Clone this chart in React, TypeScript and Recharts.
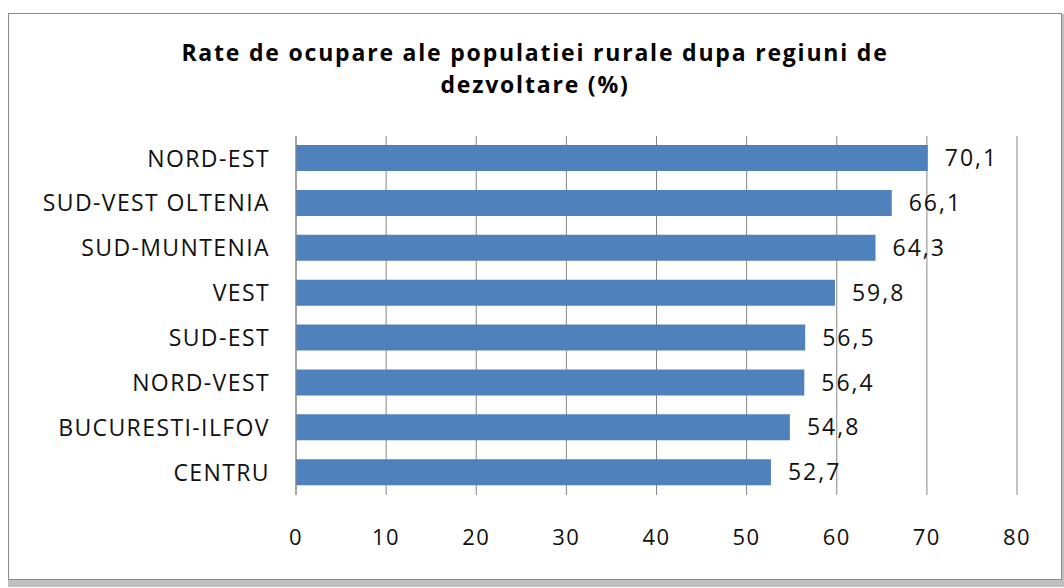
import React from "react";
import { BarChart, Bar, XAxis, YAxis, CartesianGrid, LabelList, Customized } from "recharts";

const regions = ["NORD-EST", "SUD-VEST OLTENIA", "SUD-MUNTENIA", "VEST", "SUD-EST", "NORD-VEST", "BUCURESTI-ILFOV", "CENTRU"];
const rates = [70.1, 66.1, 64.3, 59.8, 56.5, 56.4, 54.8, 52.7];
const xTicks = [0, 10, 20, 30, 40, 50, 60, 70, 80];
const titleLines = ["Rate de ocupare ale populatiei rurale dupa regiuni de", "dezvoltare (%)"];

const data = regions.map((r, i) => ({ region: r, value: rates[i] }));

const FONT = "'Open Sans', 'DejaVu Sans', sans-serif";

const Title = () => (
  <g>
    <text x={535} y={61} textAnchor="middle" fontFamily={FONT} fontWeight="bold" fontSize={23} letterSpacing={1.8} fill="#000">
      {titleLines[0]}
    </text>
    <text x={535} y={93} textAnchor="middle" fontFamily={FONT} fontWeight="bold" fontSize={23} letterSpacing={1.8} fill="#000">
      {titleLines[1]}
    </text>
  </g>
);

export default function App() {
  return (
    <div style={{ position: "absolute", left: 0, top: 0, width: 1064, height: 588, background: "#ffffff", overflow: "hidden" }}>
      <div
        style={{
          position: "absolute",
          left: 8,
          top: 13,
          width: 1052,
          height: 565,
          border: "1.5px solid #8a8a8a",
          boxShadow: "3px 4px 0px 3px #bfbfbf",
          background: "#fff",
        }}
      />
      <div style={{ position: "absolute", left: 0, top: 0 }}>
        <BarChart
          width={1064}
          height={588}
          data={data}
          layout="vertical"
          margin={{ top: 136, right: 47, bottom: 0, left: 0 }}
          barSize={26}
        >
          <CartesianGrid horizontal={false} vertical={true} stroke="#868686" strokeWidth={1} />
          <XAxis
            type="number"
            domain={[0, 80]}
            ticks={xTicks}
            interval={0}
            axisLine={false}
            tickLine={false}
            height={93}
            tickMargin={28}
            tick={{ fontFamily: FONT, fontSize: 22, fill: "#111", letterSpacing: 1.5 }}
          />
          <YAxis
            type="category"
            dataKey="region"
            width={296}
            axisLine={{ stroke: "#868686" }}
            tickLine={false}
            tickMargin={20}
            interval={0}
            tick={{ fontFamily: FONT, fontSize: 23, fill: "#111", letterSpacing: 1.4 }}
          />
          <Bar dataKey="value" fill="#4F81BD" isAnimationActive={false}>
            <LabelList
              dataKey="value"
              position="right"
              offset={17}
              formatter={(v: number) => v.toFixed(1).replace(".", ",")}
              style={{ fontFamily: FONT, fontSize: 23, fill: "#111", letterSpacing: 2 }}
            />
          </Bar>
          <Customized component={Title} />
        </BarChart>
      </div>
    </div>
  );
}
